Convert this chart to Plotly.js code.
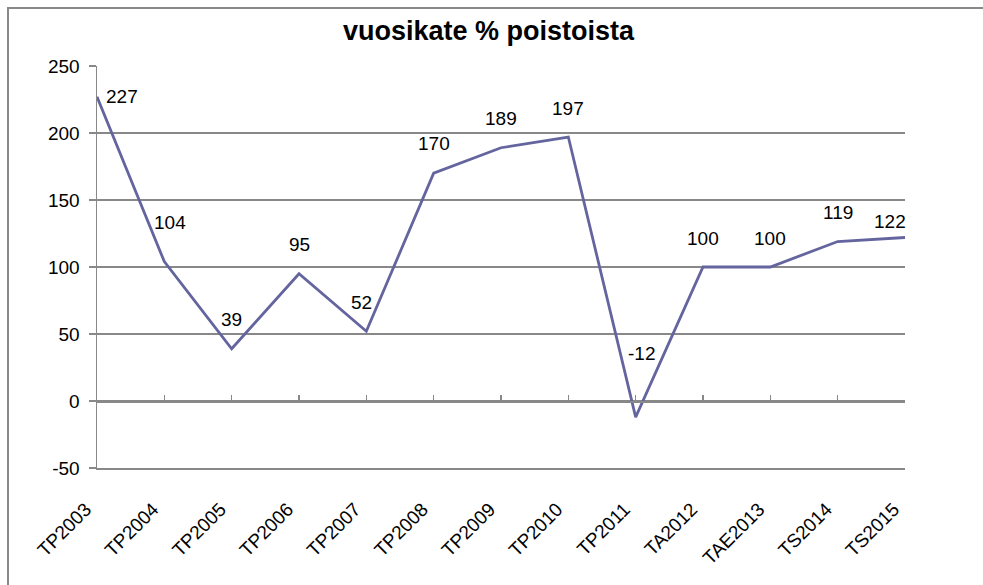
<!DOCTYPE html>
<html>
<head>
<meta charset="utf-8">
<script src="https://cdn.plot.ly/plotly-3.0.1.min.js"></script>
<style>
  html, body { margin: 0; padding: 0; background: #fff; overflow: hidden; }
  #frame { position: absolute; left: 7px; top: 7px; width: 1100px; height: 700px;
           border-left: 2px solid #888888; border-top: 2px solid #888888; pointer-events: none; }
  #chart { position: absolute; left: 0; top: 0; width: 983px; height: 585px; }
</style>
</head>
<body>
<div id="chart"></div>
<div id="frame"></div>
<script>
// ---- data ----
const categories = ["TP2003", "TP2004", "TP2005", "TP2006", "TP2007", "TP2008", "TP2009",
                    "TP2010", "TP2011", "TA2012", "TAE2013", "TS2014", "TS2015"];
const values = [227, 104, 39, 95, 52, 170, 189, 197, -12, 100, 100, 119, 122];
const yTicks = [-50, 0, 50, 100, 150, 200, 250];
const yTickLabels = ["-50", "0", "50", "100", "150", "200", "250"];
const chartTitle = "vuosikate % poistoista";

// ---- label placement (style, not data) ----
const labelShiftX = [25, 6, 0, 0, -5, 0, 0, 0, 6, 0, 0, 0, -15];
const labelShiftY = [0, 39, 29, 29, 29, 30, 29, 29, 64, 29, 29, 29, 16];

const FONT = "Liberation Sans, Arial, sans-serif";
const GRID = "#888888";
const LINE = "#64649F";
const PAD = "\u00a0\u00a0\u00a0";

const traces = [
  {
    x: categories, y: values, type: "scatter", mode: "lines",
    line: { color: LINE, width: 2.8 }, hoverinfo: "skip", cliponaxis: false
  },
  {
    x: categories, y: values, type: "scatter", mode: "lines", xaxis: "x2",
    line: { color: "rgba(0,0,0,0)", width: 0 }, hoverinfo: "skip", showlegend: false
  }
];

const annotations = values.map((v, i) => ({
  x: categories[i], y: v, xref: "x", yref: "y",
  text: String(v), showarrow: false,
  xshift: labelShiftX[i], yshift: labelShiftY[i],
  font: { family: FONT, size: 19, color: "#000" }
}));

const yMin = yTicks[0], yMax = yTicks[yTicks.length - 1];

const layout = {
  width: 983, height: 585,
  margin: { l: 97, r: 78, t: 66, b: 117 },
  paper_bgcolor: "rgba(0,0,0,0)", plot_bgcolor: "#fff",
  showlegend: false,
  title: {
    text: "<b>" + chartTitle + "</b>",
    font: { family: FONT, size: 27, color: "#000" },
    x: 0.497, xanchor: "center", y: 0.948, yanchor: "middle"
  },
  xaxis: {
    type: "category", range: [0, categories.length - 1],
    tickmode: "array", tickvals: categories, ticktext: categories.map(c => c + PAD),
    showgrid: false, zeroline: false,
    showline: true, linecolor: GRID, linewidth: 1.5,
    ticks: "", tickangle: -45,
    tickfont: { family: FONT, size: 19, color: "#000" },
    ticklabelstandoff: 10
  },
  xaxis2: {
    type: "category", range: [0, categories.length - 1],
    overlaying: "x", anchor: "free",
    position: (0 - yMin) / (yMax - yMin),
    showgrid: false, zeroline: false, showticklabels: false,
    showline: true, linecolor: GRID, linewidth: 1.5,
    ticks: "inside", ticklen: 6, tickcolor: GRID, tickwidth: 1.5
  },
  yaxis: {
    range: [yMin, yMax], tickmode: "array", tickvals: yTicks, ticktext: yTickLabels,
    showgrid: true, gridcolor: GRID, gridwidth: 1.5,
    zeroline: false,
    showline: true, linecolor: GRID, linewidth: 1.5,
    ticks: "outside", ticklen: 7, tickcolor: GRID, tickwidth: 1.5,
    ticklabelstandoff: 5,
    tickfont: { family: FONT, size: 19, color: "#000" }
  },
  annotations: annotations
};

Plotly.newPlot("chart", traces, layout, { staticPlot: true, displayModeBar: false });
</script>
</body>
</html>
